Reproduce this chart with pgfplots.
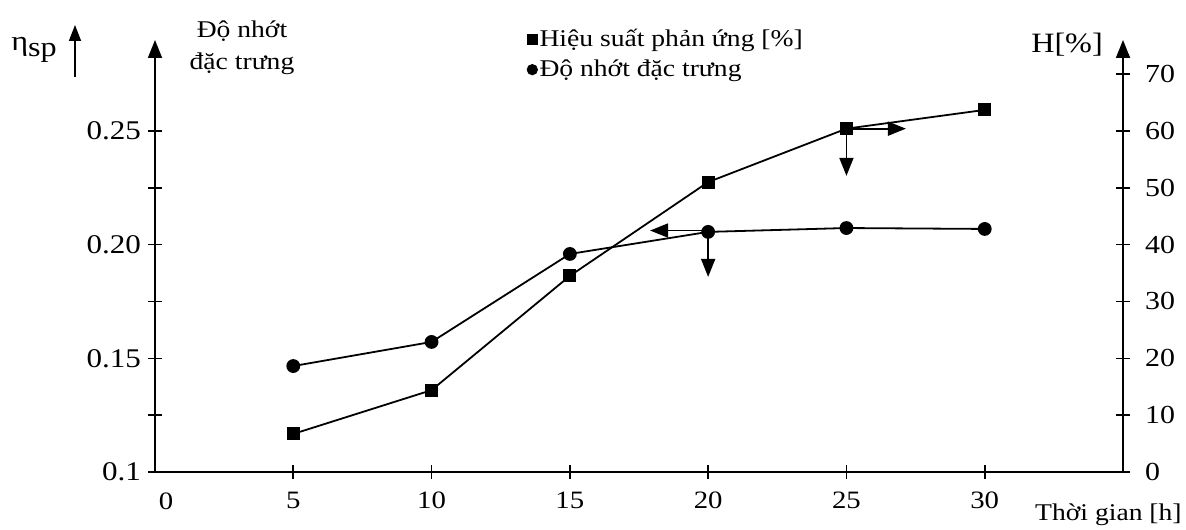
\documentclass[border=0pt]{standalone}
\usepackage{fontspec}
\setmainfont{Liberation Serif}[FakeStretch=1.15]
\usepackage{pgfplots}
\pgfplotsset{compat=1.18}
\usetikzlibrary{arrows.meta}
\begin{document}
\begin{tikzpicture}[font=\fontsize{12}{16}\selectfont]
\path[use as bounding box] (0,0) rectangle (593pt,264.5pt);
\pgfplotsset{
  every axis/.append style={
    at={(77.5pt,28.5pt)}, anchor=south west,
    scale only axis, width=484pt, height=216pt,
    xmin=0, xmax=35,
    axis line style={line width=0.9pt},
    tick style={line width=0.8pt, black},
    tick align=center,
    major tick length=7pt,
    /pgf/number format/assume math mode=true,
    ticklabel style={font=\fontsize{13.5}{15}\selectfont},
  }
}
\begin{axis}[
  ymin=0.1, ymax=0.29,
  axis x line=bottom, axis y line=left,
  x axis line style={-},
  y axis line style={-{Triangle[length=9pt,width=7pt]}},
  xtick={5,10,...,30},
  xticklabel style={yshift=-3pt, font=\fontsize{12.5}{14}\selectfont},
  ytick={0.1,0.125,...,0.26},
  yticklabels={0.1,{},0.15,{},0.20,{},0.25},
  legend style={at={(0.384,1.03)}, anchor=north west, draw=none, fill=none,
    inner sep=0pt, row sep=3pt, font=\fontsize{12}{14}\selectfont,
    nodes={inner sep=1pt}},
  legend cell align=left,
  legend image code/.code={\draw[#1] plot coordinates {(0.1cm,0cm)};},
]
\addlegendimage{only marks, mark=square*, mark size=2.5pt, black}
\addlegendentry{Hiệu suất phản ứng [\%]}
\addlegendimage{only marks, mark=*, mark size=2.6pt, black}
\addlegendentry{Độ nhớt đặc trưng}
\addplot[black, line width=0.9pt, mark=*, mark size=3pt, forget plot] coordinates {
  (5,0.1466) (10,0.1572) (15,0.1959) (20,0.2056) (25,0.2073) (30,0.2069)
};
\draw[line width=0.9pt, -{Triangle[length=9pt,width=7pt]}] (axis cs:20,0.2062) -- (axis cs:17.9,0.2062);
\draw[line width=0.9pt, -{Triangle[length=9pt,width=7pt]}] (axis cs:20,0.2056) -- (axis cs:20,0.1858);
\end{axis}
\begin{axis}[
  ymin=0, ymax=76,
  axis x line=none, axis y line=right,
  y axis line style={-{Triangle[length=9pt,width=7pt]}},
  ytick={0,10,...,70},
  yticklabel style={xshift=4pt, font=\fontsize{13}{15}\selectfont},
]
\addplot[black, line width=0.9pt, mark=square*, mark size=2.8pt] coordinates {
  (5,6.7) (10,14.4) (15,34.5) (20,51.0) (25,60.4) (30,63.7)
};
\draw[line width=0.9pt, -{Triangle[length=9pt,width=7pt]}] (axis cs:25,60.4) -- (axis cs:27.15,60.4);
\draw[line width=0.9pt, -{Triangle[length=9pt,width=7pt]}] (axis cs:25,60.4) -- (axis cs:25,52.1);
\end{axis}
\begin{scope}[x=0.5pt,y=0.5pt]
\node[font=\fontsize{14}{16}\selectfont] at (34,479) {η\raisebox{-0.45ex}{sp}};
\draw[line width=0.8pt, -{Triangle[length=8pt,width=6pt]}] (75,452) -- (75,504);
\node[align=center] at (242,481) {Độ nhớt\\đặc trưng};
\node[font=\fontsize{14}{16}\selectfont] at (1067,484) {H[\%]};
\node[anchor=east, inner sep=1pt, font=\fontsize{12}{14}\selectfont] at (1184,14) {Thời gian [h]};
\node[font=\fontsize{12.5}{14}\selectfont] at (166,28) {0};
\end{scope}
\end{tikzpicture}
\end{document}
